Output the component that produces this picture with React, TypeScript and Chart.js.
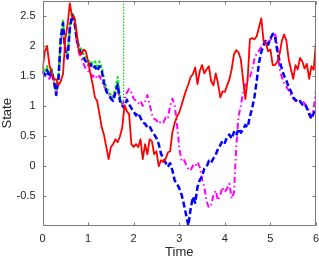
import React, { useEffect, useRef } from "react";
import { Chart, registerables } from "chart.js";

Chart.register(...registerables);

// sampling step of the time axis (s)
const DT = 0.05;

const RED = [
  1.61, 1.90, 2.00, 1.69, 1.54, 1.44, 1.44, 1.34, 1.41, 1.53,
  2.11, 2.36, 2.71, 2.48, 2.48, 2.23, 1.89, 1.86, 1.94, 1.91,
  1.74, 1.54, 1.36, 1.14, 1.08, 0.86, 0.64, 0.51, 0.31, 0.11,
  0.31, 0.36, 0.44, 0.39, 0.49, 0.64, 1.01, 0.91, 0.86, 0.36,
  0.31, 0.36, 0.31, 0.44, 0.11, 0.36, 0.19, 0.44, 0.41, 0.19,
  0.24, -0.01, 0.09, 0.06, 0.11, 0.22, 0.24, 0.56, 0.71, 0.82,
  0.89, 1.01, 1.14, 1.26, 1.36, 1.48, 1.53, 1.64, 1.36, 1.58,
  1.68, 1.54, 1.61, 1.66, 1.41, 1.34, 1.54, 1.38, 1.14, 1.24,
  1.23, 1.34, 1.44, 1.61, 1.86, 1.93, 1.89, 1.78, 1.44, 1.11,
  1.44, 2.11, 2.13, 2.11, 2.16, 2.31, 2.46, 2.08, 2.05, 1.91,
  1.94, 1.68, 1.68, 1.73, 1.86, 2.08, 2.19, 2.09, 1.78, 1.61,
  1.45, 1.68, 1.61, 1.80, 1.74, 1.62, 1.70, 1.45, 1.66, 1.60,
  2.08,
];

const BLUE = [
  1.58, 1.52, 1.60, 1.48, 1.58, 1.42, 1.18, 1.45, 2.12, 2.38,
  1.92, 1.80, 2.30, 2.52, 2.42, 2.12, 1.95, 1.88, 1.80, 1.74,
  1.68, 1.70, 1.62, 1.66, 1.58, 1.66, 1.58, 1.38, 1.24, 1.18,
  1.12, 1.08, 1.22, 1.36, 1.08, 1.00, 0.96, 1.10, 1.02, 0.96,
  0.90, 0.84, 0.88, 0.80, 0.72, 0.70, 0.64, 0.66, 0.58, 0.52,
  0.46, 0.36, 0.20, 0.12, 0.05, -0.02, 0.04, -0.08, -0.25, -0.30,
  -0.38, -0.48, -0.64, -0.82, -1.00, -0.72, -0.52, -0.62, -0.36, -0.24,
  -0.18, -0.05, -0.02, 0.08, 0.05, 0.12, 0.18, 0.28, 0.34, 0.42,
  0.38, 0.48, 0.52, 0.45, 0.56, 0.50, 0.62, 0.55, 0.60, 0.68,
  0.64, 0.82, 0.96, 1.15, 1.42, 1.72, 1.90, 2.02, 2.10, 2.02,
  2.12, 2.20, 2.16, 1.92, 1.75, 1.62, 1.50, 1.42, 1.32, 1.24,
  1.14, 1.10, 1.06, 1.08, 1.02, 1.04, 0.96, 0.86, 0.78, 0.88,
  0.92,
];

const MAGENTA = [
  1.55, 1.50, 1.56, 1.45, 1.52, 1.40, 1.20, 1.42, 2.05, 2.32,
  1.90, 1.78, 2.26, 2.48, 2.38, 2.08, 1.88, 1.80, 1.70, 1.62,
  1.58, 1.55, 1.48, 1.52, 1.45, 1.50, 1.42, 1.32, 1.28, 1.20,
  1.14, 1.16, 1.24, 1.30, 1.10, 1.02, 1.10, 1.22, 1.28, 1.22,
  1.12, 1.08, 1.04, 1.08, 1.00, 1.06, 1.18, 1.02, 0.86, 0.78,
  0.76, 0.70, 0.74, 0.72, 0.80, 0.78, 1.00, 1.12, 1.00, 0.70,
  0.30, 0.08, 0.10, 0.02, -0.06, -0.08, 0.00, -0.02, 0.06, -0.02,
  -0.22, -0.36, -0.60, -0.70, -0.66, -0.48, -0.42, -0.58, -0.48, -0.36,
  -0.44, -0.38, -0.30, -0.55, -0.45, 0.30, 0.82, 1.00, 1.22, 1.36,
  1.44, 1.48, 1.60, 1.78, 1.88, 1.92, 1.98, 2.00, 2.04, 2.06,
  2.10, 2.14, 2.22, 2.00, 1.62, 1.48, 1.38, 1.32, 1.26, 1.18,
  1.12, 1.08, 1.10, 1.06, 1.08, 1.04, 0.98, 0.92, 0.82, 0.96,
  1.26,
];

const GREEN = [
  1.62, 1.56, 1.66, 1.52, 1.62, 1.46, 1.24, 1.50, 2.16, 2.42,
  1.96, 1.84, 2.34, 2.56, 2.46, 2.16, 2.00, 1.94, 1.86, 1.80,
  1.74, 1.76, 1.70, 1.74, 1.66, 1.74, 1.64, 1.44, 1.30, 1.24,
  1.18, 1.14, 1.30, 1.48, 1.14, 1.02,
];

// end of the green estimate and its vertical marker
const CUT_TIME = 1.78;
const CUT_LOW = 0.98;

const X_TICKS = [0, 1, 2, 3, 4, 5, 6];
const Y_TICKS = [-0.5, 0, 0.5, 1, 1.5, 2, 2.5];
const X_MIN = 0;
const X_MAX = 6;
const Y_MIN = -1;
const Y_MAX = 2.75;

const FONT = "'Liberation Sans', Arial, Helvetica, sans-serif";
const AXIS = "#7a7a7a";
const TEXT = "#262626";

const toPoints = (vals: number[]) =>
  vals.map((v, i) => ({ x: Math.round(i * DT * 100) / 100, y: v }));

const boxPlugin = {
  id: "matlabBox",
  afterDatasetsDraw(chart: any) {
    const { ctx, chartArea: a, scales } = chart;
    const L = Math.round(a.left) + 0.5;
    const R = Math.round(a.right) - 0.5;
    const T = Math.round(a.top) + 0.5;
    const B = Math.round(a.bottom) - 0.5;
    const tl = 3;
    ctx.save();
    ctx.strokeStyle = AXIS;
    ctx.lineWidth = 1;
    ctx.setLineDash([]);
    ctx.strokeRect(L, T, R - L, B - T);
    ctx.beginPath();
    for (const v of X_TICKS) {
      const x = Math.round(scales.x.getPixelForValue(v)) + 0.5;
      ctx.moveTo(x, B);
      ctx.lineTo(x, B - tl);
      ctx.moveTo(x, T);
      ctx.lineTo(x, T + tl);
    }
    for (const v of Y_TICKS) {
      const y = Math.round(scales.y.getPixelForValue(v)) + 0.5;
      ctx.moveTo(L, y);
      ctx.lineTo(L + tl, y);
      ctx.moveTo(R, y);
      ctx.lineTo(R - tl, y);
    }
    ctx.stroke();
    ctx.restore();
  },
};

const noEdgePadding = (s: any) => {
  s.paddingLeft = 0;
  s.paddingRight = 0;
  s.paddingTop = 0;
  s.paddingBottom = 0;
};

export default function App() {
  const ref = useRef<HTMLCanvasElement | null>(null);

  useEffect(() => {
    if (!ref.current) return;
    const common = { pointRadius: 0, tension: 0, fill: false, borderJoinStyle: "round" as const };
    const chart = new Chart(ref.current, {
      type: "line",
      data: {
        datasets: [
          {
            ...common,
            data: toPoints(RED),
            borderColor: "#ff0000",
            borderWidth: 1.8,
            order: 0,
          },
          {
            ...common,
            data: toPoints(BLUE),
            borderColor: "#0000ff",
            borderWidth: 2.5,
            borderDash: [6, 3],
            order: 1,
          },
          {
            ...common,
            data: [...toPoints(GREEN), { x: CUT_TIME, y: CUT_LOW }],
            borderColor: "#00ee00",
            borderWidth: 2.2,
            borderDash: [3, 2],
            order: 2,
          },
          {
            ...common,
            data: toPoints(MAGENTA),
            borderColor: "#ff00ff",
            borderWidth: 2,
            borderDash: [6, 3, 1.5, 3],
            order: 3,
          },
          {
            ...common,
            data: [
              { x: CUT_TIME, y: CUT_LOW },
              { x: CUT_TIME, y: Y_MAX },
            ],
            borderColor: "#00dd00",
            borderWidth: 1.2,
            borderDash: [1.5, 1.5],
            order: 4,
          },
        ],
      },
      options: {
        animation: false,
        responsive: false,
        maintainAspectRatio: false,
        layout: { padding: { top: 1, right: 3, left: 0, bottom: 0 } },
        plugins: {
          legend: { display: false },
          tooltip: { enabled: false },
        },
        scales: {
          x: {
            type: "linear",
            min: X_MIN,
            max: X_MAX,
            afterBuildTicks: (s: any) => {
              s.ticks = X_TICKS.map((v) => ({ value: v }));
            },
            afterFit: (s: any) => {
              s.height = 33.5;
              noEdgePadding(s);
            },
            grid: { display: false, drawTicks: false },
            border: { display: false },
            ticks: {
              padding: 7,
              color: TEXT,
              font: { family: FONT, size: 11 },
              maxRotation: 0,
              autoSkip: false,
              callback: (v: any) => String(v),
            },
            title: {
              display: true,
              text: "Time",
              color: TEXT,
              font: { family: FONT, size: 13 },
              padding: { top: 0, bottom: -1 },
            },
          },
          y: {
            type: "linear",
            min: Y_MIN,
            max: Y_MAX,
            afterBuildTicks: (s: any) => {
              s.ticks = Y_TICKS.map((v) => ({ value: v }));
            },
            afterFit: (s: any) => {
              s.width = 42.5;
              noEdgePadding(s);
            },
            grid: { display: false, drawTicks: false },
            border: { display: false },
            ticks: {
              padding: 7,
              color: TEXT,
              font: { family: FONT, size: 11 },
              autoSkip: false,
              callback: (v: any) => String(v),
            },
            title: {
              display: true,
              text: "State",
              color: TEXT,
              font: { family: FONT, size: 13 },
              padding: { top: 0, bottom: 0 },
            },
          },
        },
      },
      plugins: [boxPlugin],
    });
    return () => chart.destroy();
  }, []);

  return (
    <div style={{ position: "fixed", left: 0, top: 0, width: 319, height: 259, background: "#fff" }}>
      <canvas ref={ref} width={319} height={259} style={{ display: "block", width: 319, height: 259 }} />
    </div>
  );
}
